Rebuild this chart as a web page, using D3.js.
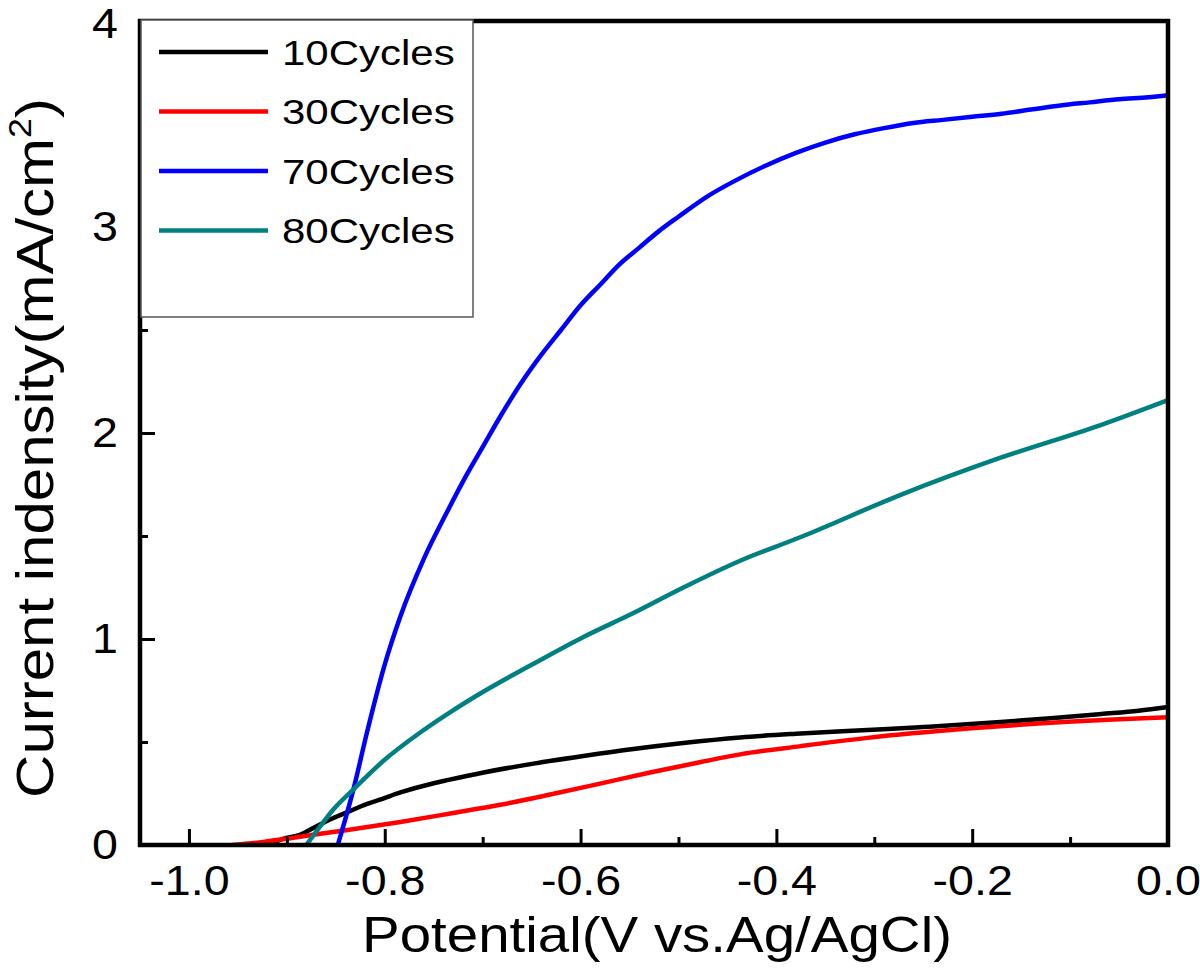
<!DOCTYPE html>
<html><head><meta charset="utf-8">
<script src="https://cdn.jsdelivr.net/npm/d3@7"></script>
<style>
body{margin:0;background:#fff}
text{font-family:"Liberation Sans",Arial,Helvetica,sans-serif;fill:#000}
</style>
</head><body>
<svg id="chart" width="1200" height="974"></svg>
<script>
// ---------- data ----------
const seriesNames = ["10Cycles", "30Cycles", "70Cycles", "80Cycles"];
const seriesColors = ["#000000", "#ff0000", "#0000ff", "#008080"];

const potential10 = [-0.95,-0.92,-0.904,-0.886,-0.873,-0.853,-0.838,-0.818,-0.805,-0.784,-0.75,-0.736,-0.699,-0.648,-0.597,-0.546,-0.495,-0.437,-0.38,-0.307,-0.24,-0.171,-0.12,-0.068,-0.03,0];
const current10   = [0,0.005,0.03,0.05,0.083,0.13,0.16,0.20,0.22,0.255,0.30,0.315,0.352,0.395,0.432,0.466,0.495,0.522,0.54,0.558,0.575,0.597,0.615,0.636,0.652,0.67];

const potential30 = [-0.956,-0.924,-0.89,-0.838,-0.784,-0.733,-0.682,-0.631,-0.58,-0.529,-0.477,-0.437,-0.375,-0.307,-0.204,-0.102,-0.05,0];
const current30   = [0,0.015,0.038,0.073,0.112,0.153,0.195,0.245,0.298,0.352,0.403,0.44,0.48,0.52,0.565,0.598,0.61,0.62];

const potential70 = [-0.848,-0.84,-0.832,-0.818,-0.801,-0.784,-0.76,-0.736,-0.716,-0.699,-0.682,-0.661,-0.64,-0.62,-0.6,-0.58,-0.56,-0.54,-0.52,-0.5,-0.47,-0.44,-0.41,-0.38,-0.35,-0.32,-0.29,-0.26,-0.23,-0.2,-0.17,-0.14,-0.11,-0.08,-0.05,-0.02,0];
const current70   = [0,0.13,0.27,0.55,0.86,1.11,1.39,1.62,1.80,1.94,2.08,2.24,2.38,2.50,2.62,2.72,2.82,2.90,2.98,3.05,3.15,3.23,3.30,3.36,3.41,3.45,3.48,3.505,3.52,3.535,3.55,3.57,3.59,3.605,3.62,3.63,3.64];

const potential80 = [-0.88,-0.866,-0.853,-0.832,-0.801,-0.767,-0.733,-0.699,-0.648,-0.597,-0.546,-0.495,-0.437,-0.375,-0.273,-0.171,-0.068,0];
const current80   = [0,0.09,0.17,0.27,0.41,0.535,0.645,0.745,0.88,1.01,1.126,1.25,1.38,1.495,1.70,1.88,2.04,2.16];

const xMajorTicks = [-1.0,-0.8,-0.6,-0.4,-0.2,0.0];
const xMinorTicks = [-0.9,-0.7,-0.5,-0.3,-0.1];
const yMajorTicks = [0,1,2,3,4];
const yMinorTicks = [0.5,1.5,2.5,3.5];
const xTitle = "Potential(V vs.Ag/AgCl)";
const yTitleMain = "Current indensity(mA/cm";
const yTitleSup = "2";
const yTitleEnd = ")";

const series = [
  {name: seriesNames[0], color: seriesColors[0], x: potential10, y: current10},
  {name: seriesNames[1], color: seriesColors[1], x: potential30, y: current30},
  {name: seriesNames[2], color: seriesColors[2], x: potential70, y: current70},
  {name: seriesNames[3], color: seriesColors[3], x: potential80, y: current80}
];

// ---------- layout ----------
const svg = d3.select("#chart");
const L = 140, R = 1168, T = 21, B = 845;
const x = d3.scaleLinear().domain([-1.05, 0]).range([L, R]);
const y = d3.scaleLinear().domain([0, 4]).range([B, T]);

function stretch(node, factor) {
  const sel = d3.select(node);
  const xx = +sel.attr("x") || 0;
  sel.attr("transform", `translate(${xx},0) scale(${factor},1) translate(${-xx},0)`);
}

svg.append("defs").append("clipPath").attr("id","clip")
  .append("rect").attr("x", L).attr("y", T).attr("width", R-L).attr("height", B-T);

// curves
const line = d3.line().x(d => x(d[0])).y(d => y(d[1])).curve(d3.curveMonotoneX);
svg.append("g").attr("clip-path","url(#clip)")
  .selectAll("path").data(series).join("path")
  .attr("d", s => line(s.x.map((v,i) => [v, s.y[i]])))
  .attr("fill","none").attr("stroke", s => s.color)
  .attr("stroke-width", 4.5).attr("stroke-linejoin","round");

// axes
const tickFont = 42, tickStretch = 1.11;
const gx = svg.append("g").attr("transform", `translate(0,${B})`)
  .call(d3.axisBottom(x).tickValues(xMajorTicks).tickSizeInner(-16).tickSizeOuter(0)
        .tickPadding(20).tickFormat(d => d.toFixed(1)));
const gxm = svg.append("g").attr("transform", `translate(0,${B})`)
  .call(d3.axisBottom(x).tickValues(xMinorTicks).tickSizeInner(-8).tickSizeOuter(0).tickFormat(""));
const gy = svg.append("g").attr("transform", `translate(${L},0)`)
  .call(d3.axisLeft(y).tickValues(yMajorTicks).tickSizeInner(-15).tickSizeOuter(0)
        .tickPadding(22).tickFormat(d3.format("d")));
const gym = svg.append("g").attr("transform", `translate(${L},0)`)
  .call(d3.axisLeft(y).tickValues(yMinorTicks).tickSizeInner(-8).tickSizeOuter(0).tickFormat(""));

[gx, gxm, gy, gym].forEach(g => {
  g.select(".domain").remove();
  g.selectAll(".tick line").attr("stroke","#000").attr("stroke-width",3);
  g.selectAll(".tick text").attr("font-size", tickFont)
    .attr("font-family", '"Liberation Sans",Arial,sans-serif').attr("fill","#000");
});
gx.selectAll(".tick text").each(function(){ stretch(this, tickStretch); });
gy.selectAll(".tick text").each(function(d){
  if (d === 4) d3.select(this).attr("dy", "0.40em");
  stretch(this, tickStretch);
});

// frame
svg.append("rect").attr("x", L).attr("y", T).attr("width", R-L).attr("height", B-T)
  .attr("fill","none").attr("stroke","#000").attr("stroke-width",4.5);

// legend
const lg = svg.append("g");
lg.append("rect").attr("x", L+1).attr("y", 20).attr("width", 332).attr("height", 297)
  .attr("fill","#fff").attr("stroke","#555").attr("stroke-width",1.5);
series.forEach((s, i) => {
  const yy = 52 + i * 59.5;
  lg.append("line").attr("x1", 159).attr("x2", 268).attr("y1", yy).attr("y2", yy)
    .attr("stroke", s.color).attr("stroke-width", 4.5);
  const t = lg.append("text").attr("x", 282).attr("y", yy).attr("dy","0.36em")
    .attr("font-size", 35).text(s.name);
  stretch(t.node(), 1.2);
});

// x title
const xt = svg.append("text").attr("x", 657).attr("y", 952)
  .attr("text-anchor","middle").attr("font-size", 50).text(xTitle);
{
  const w = xt.node().getComputedTextLength();
  stretch(xt.node(), 590 / w);
}

// y title
const yg = svg.append("g").attr("transform", "translate(53,448) rotate(-90)");
const yt = yg.append("text").attr("x", 0).attr("y", 0).attr("text-anchor","middle").attr("font-size", 52);
yt.append("tspan").text(yTitleMain);
yt.append("tspan").attr("font-size", 31).attr("dy", -22).text(yTitleSup);
yt.append("tspan").attr("dy", 22).text(yTitleEnd);
{
  const w = yt.node().getBBox().width;
  stretch(yt.node(), 700 / w);
}
</script>
</body></html>
